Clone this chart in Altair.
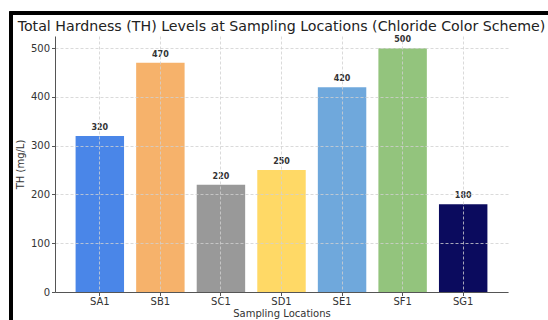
import altair as alt
import pandas as pd

locations = ["SA1", "SB1", "SC1", "SD1", "SE1", "SF1", "SG1"]
th_values = [320, 470, 220, 250, 420, 500, 180]
bar_colors = ["#4a86e8", "#f6b26b", "#999999", "#ffd966", "#6fa8dc", "#93c47d", "#0b0b5e"]

df = pd.DataFrame({"loc": locations, "th": th_values, "color": bar_colors})

FONT = "DejaVu Sans"

xenc = alt.X("loc:N", sort=locations,
             scale=alt.Scale(paddingInner=0.2, paddingOuter=0.34),
             axis=alt.Axis(title="Sampling Locations", labelAngle=0, bandPosition=0.5,
                           grid=True, gridDash=[3, 2], gridColor="#d0d0d0", gridWidth=0.8,
                           domainColor="#555555", tickColor="#555555", tickSize=3.5,
                           labelFontSize=10, titleFontSize=10, labelPadding=1, titlePadding=1.5,
                           labelColor="#333333", titleColor="#333333", titleFontWeight="normal",
                           labelFont=FONT, titleFont=FONT, zindex=1))
yenc = alt.Y("th:Q", scale=alt.Scale(domain=[0, 525], nice=False),
             axis=alt.Axis(title="TH (mg/L)", values=[0, 100, 200, 300, 400, 500],
                           grid=True, gridDash=[3, 2], gridColor="#d0d0d0", gridWidth=0.8,
                           domainColor="#555555", tickColor="#555555", tickSize=3.5,
                           labelFontSize=10, titleFontSize=10, labelPadding=2, titlePadding=5,
                           labelColor="#333333", titleColor="#333333", titleFontWeight="normal",
                           labelFont=FONT, titleFont=FONT, zindex=1))

bars = alt.Chart(df).mark_bar().encode(
    x=xenc, y=yenc, color=alt.Color("color:N", scale=None)
)
labels = alt.Chart(df).mark_text(baseline="bottom", dy=-4, fontSize=8, fontWeight="bold",
                                 font=FONT, color="#333333").encode(
    x=alt.X("loc:N", sort=locations), y="th:Q", text="th:Q"
)
frame_left = alt.Chart(df).mark_rule(color="black", strokeWidth=3, clip=False).encode(
    x=alt.value(-44), y=alt.value(-24), y2=alt.value(300)
)
frame_top = alt.Chart(df).mark_rule(color="black", strokeWidth=3, clip=False).encode(
    x=alt.value(-45.5), x2=alt.value(600), y=alt.value(-23)
)

chart = alt.layer(bars, labels, frame_left, frame_top).properties(
    width=453, height=256,
    title=alt.Title("Total Hardness (TH) Levels at Sampling Locations (Chloride Color Scheme)",
                    fontSize=14.2, font=FONT, fontWeight="normal", color="#222222",
                    anchor="middle", offset=5, dy=29),
    autosize=alt.AutoSizeParams(type="none"),
    padding={"left": 55, "top": 36, "right": 40, "bottom": 28},
).configure_view(stroke=None)

chart.save("out.html", embed_options={"renderer": "svg", "actions": False})
